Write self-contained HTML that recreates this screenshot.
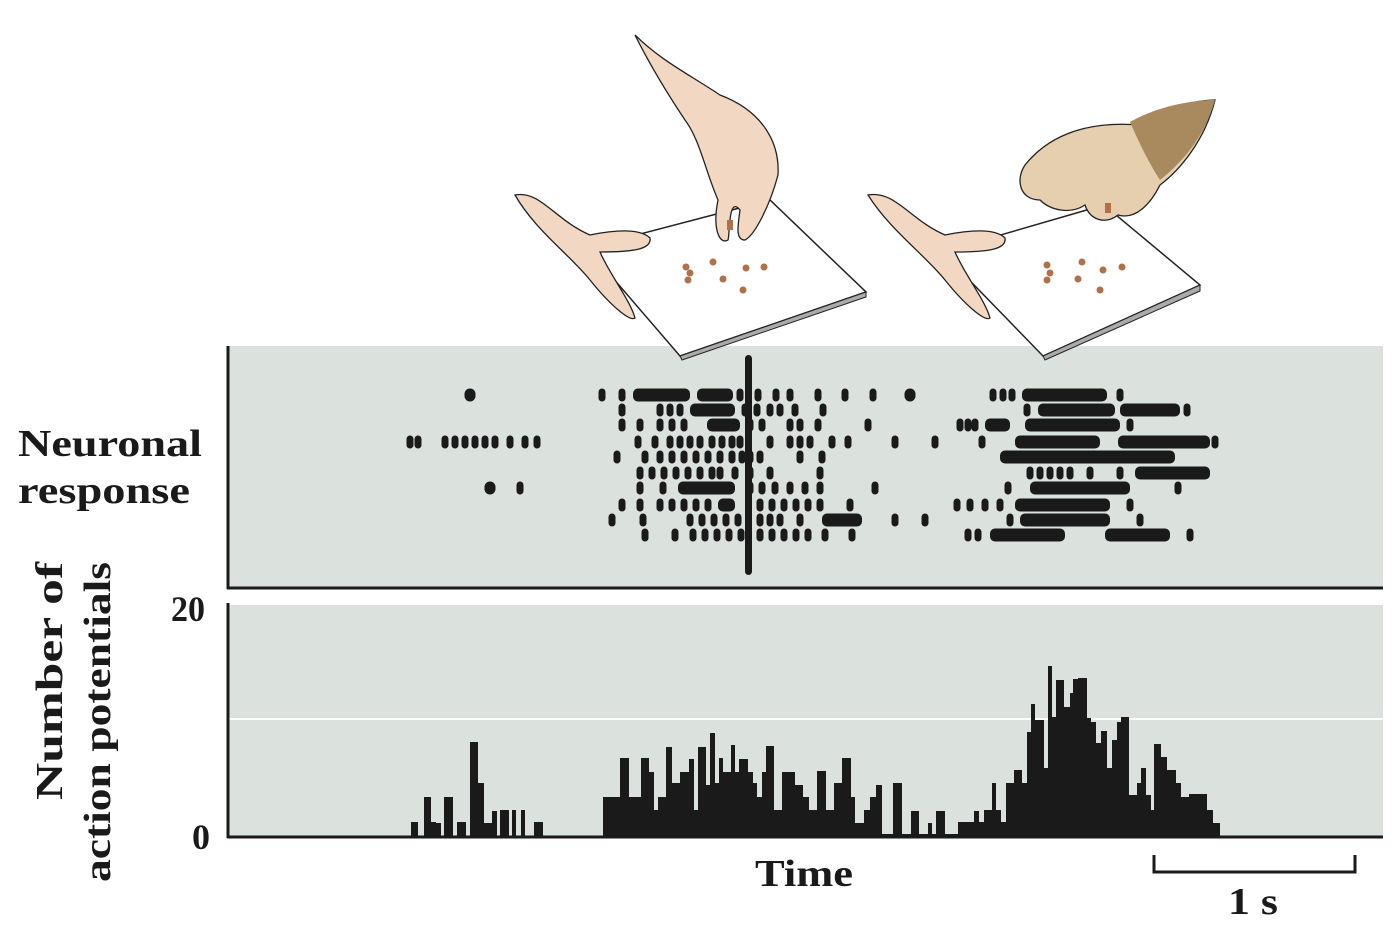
<!DOCTYPE html>
<html><head><meta charset="utf-8"><style>
html,body{margin:0;padding:0;background:#fff;}
svg{display:block}
text{font-family:"Liberation Serif",serif;font-weight:bold;fill:#1a1a1a}
</style></head><body>
<svg id="s" width="1400" height="934" viewBox="0 0 1400 934" xmlns="http://www.w3.org/2000/svg">
<rect x="228" y="346" width="1155" height="242" fill="#dbe1dd"/>
<rect x="228" y="603" width="1155" height="234" fill="#dbe1dd"/>
<line x1="228" y1="604" x2="1383" y2="604" stroke="#fff" stroke-width="2"/>
<line x1="228" y1="719" x2="1383" y2="719" stroke="#fff" stroke-width="2"/>
<polygon points="587,248 770,200 866,292 680,356" fill="#fff" stroke="#222" stroke-width="1.5"/>
<polygon points="680,356 866,292 866,297 682,360" fill="#aaa" stroke="#222" stroke-width="1"/>
<polygon points="942,252 1104,205 1200,285 1043,356" fill="#fff" stroke="#222" stroke-width="1.5"/>
<polygon points="1043,356 1200,285 1200,291 1045,360" fill="#aaa" stroke="#222" stroke-width="1"/>
<path d="M515,195 C540,190 555,220 590,235 C615,230 640,228 650,238 C652,250 630,252 600,252 C610,275 630,300 635,318 C630,322 610,305 590,280 C570,255 535,230 515,195Z" fill="#f2d8c2" stroke="#222" stroke-width="1.3"/>
<path d="M635,35 C660,60 690,75 720,95 C760,110 780,140 778,175 C770,205 755,235 745,240 C735,240 738,225 740,210 C728,195 730,235 728,240 C720,245 712,230 718,200 C705,170 700,140 685,120 C665,90 650,65 635,35Z" fill="#f2d8c2" stroke="#222" stroke-width="1.3"/>
<path d="M868,195 C895,190 910,220 945,235 C970,230 995,228 1005,238 C1007,250 985,252 955,252 C965,275 985,300 990,318 C985,322 965,305 945,280 C925,255 890,230 868,195Z" fill="#f2d8c2" stroke="#222" stroke-width="1.3"/>
<path d="M1140,125 C1170,105 1200,100 1215,100 C1205,140 1180,170 1160,185 C1150,205 1135,220 1118,215 C1105,225 1090,220 1085,205 C1070,215 1050,210 1040,200 C1020,200 1015,180 1025,165 C1045,140 1080,120 1140,125Z" fill="#e6cfae" stroke="#222" stroke-width="1.3"/>
<path d="M1130,122 C1160,105 1195,100 1215,100 C1205,135 1185,160 1160,180 C1150,165 1140,145 1130,122Z" fill="#a98a5e"/>
<g fill="#b0704a">
<circle cx="686" cy="267" r="3.5"/><circle cx="690" cy="273" r="3.5"/><circle cx="688" cy="280" r="3.5"/><circle cx="713" cy="262" r="3.5"/><circle cx="746" cy="268" r="3.5"/><circle cx="764" cy="267" r="3.5"/><circle cx="723" cy="279" r="3.5"/><circle cx="743" cy="290" r="3.5"/><rect x="727" y="220" width="6" height="10"/>
<circle cx="1047" cy="265" r="3.5"/><circle cx="1050" cy="273" r="3.5"/><circle cx="1047" cy="280" r="3.5"/><circle cx="1082" cy="262" r="3.5"/><circle cx="1103" cy="270" r="3.5"/><circle cx="1122" cy="267" r="3.5"/><circle cx="1078" cy="279" r="3.5"/><circle cx="1100" cy="290" r="3.5"/><rect x="1105" y="203" width="6" height="10"/>
</g>
<g id="r" fill="#1a1a1a"></g>
<rect x="745" y="355" width="7" height="220" rx="3.5" fill="#1a1a1a"/>
<g id="h" fill="#1a1a1a"></g>
<line x1="228" y1="346" x2="228" y2="589" stroke="#1a1a1a" stroke-width="3"/>
<line x1="227" y1="588" x2="1383" y2="588" stroke="#1a1a1a" stroke-width="3"/>
<line x1="228" y1="603" x2="228" y2="838" stroke="#1a1a1a" stroke-width="3"/>
<line x1="227" y1="837" x2="1383" y2="837" stroke="#1a1a1a" stroke-width="3"/>
<text x="18" y="456" font-size="38" textLength="184" lengthAdjust="spacingAndGlyphs">Neuronal</text>
<text x="18" y="503" font-size="38" textLength="172" lengthAdjust="spacingAndGlyphs">response</text>
<text x="171" y="621" font-size="36" textLength="34" lengthAdjust="spacingAndGlyphs">20</text>
<text x="192" y="849" font-size="36">0</text>
<text transform="translate(62,681) rotate(-90)" text-anchor="middle" font-size="38" textLength="238" lengthAdjust="spacingAndGlyphs">Number of</text>
<text transform="translate(110,722) rotate(-90)" text-anchor="middle" font-size="38" textLength="320" lengthAdjust="spacingAndGlyphs">action potentials</text>
<text x="755" y="886" font-size="38" textLength="98" lengthAdjust="spacingAndGlyphs">Time</text>
<path d="M1154,855 V872 H1355 V855" fill="none" stroke="#1a1a1a" stroke-width="3"/>
<text x="1228" y="914" font-size="38" textLength="50" lengthAdjust="spacingAndGlyphs">1 s</text>
</svg>
<script>
var NS="http://www.w3.org/2000/svg";
function el(g,t,a){var e=document.createElementNS(NS,t);for(var k in a)e.setAttribute(k,a[k]);document.getElementById(g).appendChild(e);}
var bars=[[411,418,822],[424,431,797],[431,436,822],[436,441,823],[444,453,797],[457,466,822],[470,478,742],[478,484,783],[484,492,823],[492,497,811],[500,509,810],[512,516,810],[521,525,810],[534,543,822],
[603,620,797],[620,629,758],[629,641,797],[641,649,758],[649,654,772],[654,658,810],[658,666,797],[666,672,747],[672,680,783],[680,689,772],[689,694,759],[694,698,810],[698,706,747],[706,710,785],[710,715,733],[715,719,783],[719,723,758],[723,731,772],[731,735,745],[735,739,772],[739,748,759],[748,753,772],[753,757,783],[757,762,797],[762,766,772],[766,774,746],[774,782,810],[782,795,772],[795,803,785],[803,809,797],[809,817,810],[817,826,771],[826,834,810],[834,842,783],[842,851,758],[851,855,797],[855,864,823],[864,870,810],[870,876,797],[876,882,785],[882,893,834],[893,902,783],[902,911,834],[911,919,811],[919,928,834],[928,932,823],[932,936,834],[936,945,811],[945,958,834],[958,974,822],[974,979,811],[979,984,822],[984,992,810],[992,996,783],[996,1001,810],[1001,1006,822],[1006,1014,783],[1014,1022,770],[1022,1027,783],[1027,1031,732],[1031,1035,704],[1035,1044,720],[1044,1048,768],[1048,1052,666],[1052,1056,717],[1056,1064,680],[1064,1070,707],[1070,1073,693],[1073,1078,679],[1078,1087,678],[1087,1091,718],[1091,1096,722],[1096,1101,743],[1101,1107,731],[1107,1112,768],[1112,1117,740],[1117,1121,722],[1121,1129,717],[1129,1137,795],[1137,1141,783],[1141,1146,768],[1146,1151,795],[1151,1154,810],[1154,1161,744],[1161,1167,757],[1167,1176,770],[1176,1181,783],[1181,1189,797],[1189,1207,794],[1207,1213,810],[1213,1220,823]];
bars.forEach(function(b){el("h","rect",{x:b[0],y:b[2],width:b[1]-b[0],height:837-b[2]});});
var ys=[395,410,425,442,457,473,488,505,520,535];
var rows=[
[470,602,622,[633,690],[697,733],740,758,776,790,818,845,873,910,993,1003,1012,[1022,1107],1120],
[622,660,670,680,[690,735],745,757,770,780,795,823,1027,[1038,1115],[1120,1180],1187],
[622,640,660,672,684,[707,740],750,762,790,800,818,868,960,968,975,[985,1010],[1025,1120],1130],
[410,418,445,455,465,475,485,495,510,525,537,638,655,670,680,690,700,712,722,732,740,770,790,800,810,832,848,895,935,982,[1015,1100],[1118,1210],1215],
[617,645,660,672,684,696,708,720,732,742,750,760,800,822,[1000,1140],[1125,1175]],
[640,652,664,676,688,700,712,720,735,750,770,820,1030,1040,1050,1060,1070,1090,1120,[1135,1210]],
[490,520,640,663,[678,735],750,762,775,790,805,820,875,1008,[1030,1130],1178],
[622,640,660,672,684,696,708,[718,735],760,772,784,796,808,820,850,957,970,985,1000,[1015,1110],1130],
[612,643,690,702,714,726,738,[745,750],760,770,780,800,[822,862],895,925,1010,[1020,1110],1140],
[645,675,693,705,717,729,741,760,772,784,796,808,825,852,968,978,[990,1065],[1105,1170],1190]];
rows.forEach(function(r,i){var y=ys[i];r.forEach(function(d){
 if(typeof d==="number"){var big=(d===470&&i===0)||(d===490&&i===6)||(d===910&&i===0);var w=big?11:7;
   el("r","rect",{x:d-w/2,y:y-6.5,width:w,height:13,rx:w/2});}
 else el("r","rect",{x:d[0],y:y-6.5,width:d[1]-d[0],height:13,rx:5});
});});
</script>
</body></html>
